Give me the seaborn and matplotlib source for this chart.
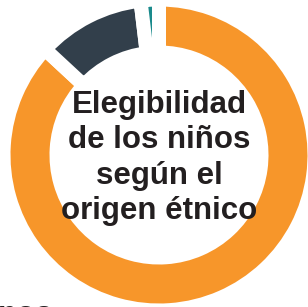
import matplotlib
matplotlib.use("Agg")
import matplotlib.pyplot as plt
import seaborn as sns

sns.set_theme(style="white")
plt.rcParams['font.family'] = ['Liberation Sans', 'DejaVu Sans']

# Data
categories = ["Elegible", "No elegible", "Otro"]
shares = [86.9, 11.2, 1.9]
colors = ["#F7962A", "#323F4B", "#1A8A8C"]
center_title = "Elegibilidad\nde los niños\nsegún el\norigen étnico"
bottom_fragment = "nos"

W, H = 308, 307
fig = plt.figure(figsize=(W / 100, H / 100), dpi=100)
ax = fig.add_axes([0, 0, 1, 1])

gap_px = 14.0
R, ring = 148.5, 39.0
cx, cy = 159.0, H - 155.0
ax.pie(shares, colors=colors, startangle=90, counterclock=False,
       radius=R + gap_px / 2, center=(cx, cy),
       wedgeprops=dict(width=ring + gap_px, edgecolor="white",
                       linewidth=gap_px * 72 / 100))
ax.set_xlim(0, W)
ax.set_ylim(0, H)
ax.set_aspect("equal")
ax.axis("off")

ax.text(cx, H - 158, center_title, ha="center", va="center",
        fontsize=22.5, fontweight="bold", color="#231F20", linespacing=1.24)
ax.text(-2, H - 300, bottom_fragment, ha="left", va="top",
        fontsize=22.5, fontweight="bold", color="#231F20")

fig.savefig("out.png", dpi=100, facecolor="white")
